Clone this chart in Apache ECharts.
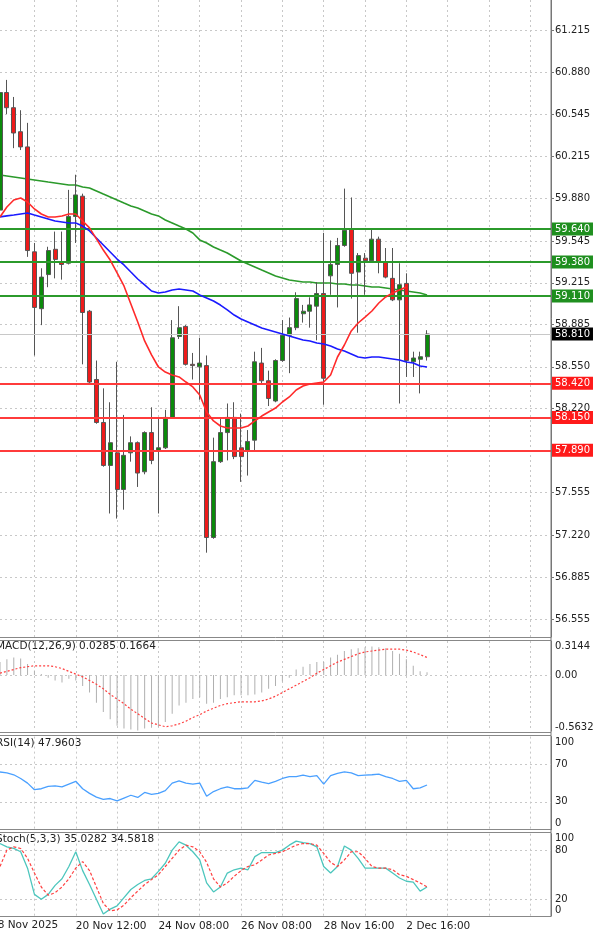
<!DOCTYPE html>
<html><head><meta charset="utf-8">
<script src="https://cdn.jsdelivr.net/npm/echarts@6/dist/echarts.min.js"></script>
<style>html,body{margin:0;padding:0;background:#fff}#c{width:600px;height:937px}</style>
</head><body><div id="c"></div>
<script>
const timeLabels = ["18 Nov 2025","20 Nov 12:00","24 Nov 08:00","26 Nov 08:00","28 Nov 16:00","2 Dec 16:00"];
const priceTicks = ["61.215","60.880","60.545","60.215","59.880","59.545","59.215","58.885","58.550","58.220","57.890","57.555","57.220","56.885","56.555"];
const opens  = [59.79,60.72,60.60,60.41,60.29,59.46,59.01,59.28,59.48,59.38,59.37,59.74,59.90,58.99,58.45,58.11,57.77,57.87,57.58,57.87,57.95,57.72,58.03,57.89,57.91,58.15,58.79,58.87,58.57,58.55,58.56,57.20,57.80,58.03,58.15,57.91,57.89,57.97,58.58,58.44,58.28,58.60,58.80,58.86,58.97,58.99,59.03,59.13,59.27,59.36,59.51,59.64,59.30,59.41,59.39,59.56,59.38,59.25,59.08,59.21,58.59,58.61,58.63];
const closes = [60.72,60.60,60.40,60.29,59.47,59.02,59.26,59.47,59.40,59.36,59.74,59.91,58.98,58.43,58.11,57.77,57.95,57.58,57.85,57.95,57.71,58.03,57.81,57.91,58.15,58.78,58.86,58.57,58.56,58.58,57.20,57.80,58.03,58.15,57.84,57.84,57.96,58.59,58.44,58.30,58.60,58.80,58.86,59.09,58.99,59.04,59.13,58.46,59.36,59.51,59.63,59.29,59.43,59.39,59.56,59.38,59.26,59.08,59.20,58.60,58.62,58.63,58.81];
const lows   = [59.70,60.55,60.28,60.265,59.42,58.64,58.88,59.18,59.25,59.24,59.36,59.53,58.57,58.42,58.10,57.76,57.39,57.35,57.42,57.80,57.60,57.70,57.78,57.39,57.90,58.14,58.77,58.56,58.45,58.29,57.08,57.19,57.79,57.81,57.82,57.64,57.69,57.89,58.42,58.24,58.27,58.59,58.50,58.84,58.90,58.86,58.76,58.25,59.12,59.02,59.50,59.09,58.82,59.12,59.38,59.29,59.25,59.07,58.26,58.47,58.47,58.34,58.60];
const highs  = [60.75,60.82,60.685,60.58,60.48,59.53,59.33,59.50,59.62,59.62,59.95,60.07,59.92,59.00,58.60,58.38,58.27,58.59,58.17,58.00,57.96,58.04,58.23,58.14,58.21,58.92,59.03,58.88,58.66,58.78,58.64,57.99,58.15,58.26,58.27,58.18,58.05,58.67,58.70,58.52,58.61,58.92,58.94,59.14,59.04,59.10,59.22,59.61,59.55,59.57,59.96,59.89,59.45,59.45,59.64,59.58,59.49,59.49,59.37,59.29,58.67,58.67,58.84];
const maFast = [59.736,59.815,59.870,59.886,59.854,59.799,59.759,59.736,59.736,59.743,59.759,59.759,59.704,59.649,59.562,59.474,59.395,59.293,59.190,59.047,58.905,58.755,58.644,58.549,58.509,58.486,58.470,58.430,58.391,58.327,58.193,58.122,58.082,58.066,58.066,58.066,58.082,58.122,58.161,58.193,58.224,58.272,58.312,58.367,58.399,58.414,58.422,58.430,58.486,58.628,58.723,58.834,58.897,58.944,58.992,59.055,59.103,59.134,59.158,59.182];
const maMid = [59.736,59.744,59.751,59.759,59.767,59.751,59.736,59.720,59.704,59.696,59.688,59.688,59.664,59.625,59.569,59.514,59.459,59.403,59.356,59.300,59.245,59.198,59.150,59.134,59.142,59.158,59.166,59.158,59.150,59.119,59.095,59.071,59.039,59.000,58.960,58.929,58.905,58.881,58.857,58.842,58.826,58.810,58.794,58.778,58.762,58.755,58.739,58.731,58.715,58.691,58.675,58.652,58.628,58.620,58.628,58.628,58.620,58.612,58.604,58.588,58.581,58.557,58.549];
const maSlow = [60.068,60.060,60.052,60.044,60.036,60.028,60.020,60.012,60.005,59.997,59.989,59.989,59.973,59.965,59.941,59.917,59.894,59.870,59.846,59.823,59.807,59.783,59.759,59.744,59.712,59.688,59.664,59.641,59.609,59.554,59.530,59.498,59.474,59.451,59.419,59.387,59.364,59.340,59.316,59.293,59.269,59.253,59.237,59.229,59.221,59.221,59.213,59.213,59.213,59.206,59.206,59.198,59.198,59.190,59.182,59.182,59.174,59.166,59.158,59.150,59.142,59.134,59.119];
const macdHist = [0.14,0.17,0.19,0.18,0.12,0.05,0.01,-0.03,-0.06,-0.08,-0.04,-0.06,-0.12,-0.19,-0.30,-0.40,-0.48,-0.55,-0.58,-0.59,-0.60,-0.58,-0.57,-0.56,-0.51,-0.42,-0.33,-0.30,-0.26,-0.24,-0.31,-0.30,-0.26,-0.24,-0.22,-0.22,-0.22,-0.21,-0.19,-0.15,-0.12,-0.07,-0.03,0.06,0.09,0.12,0.14,0.14,0.19,0.22,0.26,0.28,0.29,0.30,0.31,0.30,0.29,0.26,0.23,0.17,0.10,0.04,0.03];
const macdSignal = [0.02,0.04,0.06,0.08,0.09,0.10,0.10,0.10,0.09,0.07,0.04,0.01,-0.02,-0.06,-0.10,-0.15,-0.21,-0.26,-0.31,-0.37,-0.42,-0.47,-0.52,-0.54,-0.56,-0.55,-0.53,-0.50,-0.46,-0.43,-0.39,-0.36,-0.33,-0.31,-0.30,-0.29,-0.29,-0.29,-0.28,-0.26,-0.23,-0.19,-0.15,-0.11,-0.07,-0.03,0.02,0.06,0.10,0.14,0.17,0.20,0.23,0.25,0.26,0.27,0.28,0.28,0.28,0.27,0.25,0.22,0.19];
const rsi = [62,61,59,55,50,43,44,46.5,47,46,49,52,44,39,35,32.5,33.5,31,34,37,34.6,40,38,39,42,50,52.5,50,49,50,36,41,44,46,44,44,45,53,51,49.6,52,55,57,57,58.6,57,58,49,58,60.4,62,61,58,58.6,59,59.6,57,55,52,53,44,45,48];
const stochK = [88,84,82,78,58,26,20,26,37,45,60,78,55,38,20,2,8,12,22,32,38,43,45,54,64,80,90,86,78,68,40,29,35,52,56,58,56,72,77,77,77,80,86,91,89,88,84,60,52,60,85,80,70,58,58,58,58,52,46,42,41,30,35];
const stochD = [60,80,84,82,70,52,35,25,28,35,45,58,66,55,35,15,6,7,13,22,30,38,44,50,60,70,80,86,84,78,65,45,35,40,48,55,60,62,68,74,76,78,82,86,88,88,86,76,65,60,68,78,78,70,60,58,58,56,50,48,44,40,35];
const supportLevels = [58.42,58.15,57.89];
const resistLevels = [59.64,59.38,59.11];
const lastPrice = 58.81;

const NCAT = 81;
const cats = [];
for (let k = 0; k < NCAT; k++) { const j = (k + 1) / 12; cats.push(k % 12 === 11 && timeLabels[j] ? timeLabels[j] : 'c' + k); }
const candles = opens.map((o,i)=>[o, closes[i], lows[i], highs[i]]);
const FONT = 'DejaVu Sans';
const gridLeft = 0, gridRight = 49;
const grids = [
  {left:gridLeft,right:gridRight,top:0,height:637},
  {left:gridLeft,right:gridRight,top:641,height:90},
  {left:gridLeft,right:gridRight,top:736.6,height:93.1},
  {left:gridLeft,right:gridRight,top:833.7,height:82}
];
const vSplit = {show:true, interval:(i)=> i%6===5, lineStyle:{color:'#c8c8c8',type:[2,3],width:1}};
const xAxes = grids.map((g,gi)=>({
  type:'category', gridIndex:gi, data:cats, boundaryGap:false,
  axisLine:{show:false}, axisTick:{show:false},
  axisLabel:{show: gi===3, interval:(i)=>i%12===11, align:'left', margin:5, color:'#222', fontFamily:FONT, fontSize:10.5,
    formatter:v=>timeLabels.includes(v)?v:''},
  splitLine:vSplit
}));
const lbl = {color:'#222', fontFamily:FONT, fontSize:10, margin:4};
const axLine = {show:true, lineStyle:{color:'#777'}};
const dashed = {show:true, lineStyle:{color:'#c8c8c8', type:[2,3]}};
const priceVals = priceTicks.map(Number);
const yAxes = [
  {type:'value', gridIndex:0, position:'right', min:56.413, max:61.452, axisLine:axLine,
   axisTick:{show:true, customValues:priceVals, length:3, lineStyle:{color:'#777'}},
   axisLabel:Object.assign({customValues:priceVals, formatter:v=>{const i=priceVals.findIndex(p=>Math.abs(p-v)<1e-6);return i>=0?priceTicks[i]:'';}}, lbl),
   splitLine:dashed},
  {type:'value', gridIndex:1, position:'right', min:-0.6065, max:0.3686, axisLine:axLine,
   axisTick:{show:false, customValues:[-0.5632,0,0.3144]},
   axisLabel:Object.assign({customValues:[-0.5632,0,0.3144], formatter:v=>v===0?'0.00':String(v)}, lbl),
   splitLine:{show:false}},
  {type:'value', gridIndex:2, position:'right', min:0, max:100, axisLine:axLine,
   axisTick:{show:false, customValues:[30,70]},
   axisLabel:Object.assign({customValues:[0,30,70,100], verticalAlign:'middle',
     formatter:v=>v===100?'{t|100}':(v===0?'{b|0}':String(v)), rich:{t:{padding:[12,0,0,0],fontSize:10,fontFamily:FONT,color:'#222'},b:{padding:[0,0,12,0],fontSize:10,fontFamily:FONT,color:'#222'}}}, lbl),
   splitLine:dashed},
  {type:'value', gridIndex:3, position:'right', min:0, max:100, axisLine:axLine,
   axisTick:{show:false, customValues:[20,80]},
   axisLabel:Object.assign({customValues:[0,20,80,100],
     formatter:v=>v===100?'{t|100}':(v===0?'{b|0}':String(v)), rich:{t:{padding:[10,0,0,0],fontSize:10,fontFamily:FONT,color:'#222'},b:{padding:[0,0,10,0],fontSize:10,fontFamily:FONT,color:'#222'}}}, lbl),
   splitLine:dashed}
];
function levelLine(v, col, bg){
  return {yAxis:v, lineStyle:{color:col, width:2, type:'solid'},
    label:{show:true, position:'end', distance:1, formatter:v.toFixed(3), color:'#fff', backgroundColor:bg,
      fontFamily:FONT, fontSize:10, padding:[2,3,1,3]}};
}
const markData = [];
resistLevels.forEach(v=>markData.push(levelLine(v,'#2b9a2b','#1f8f1f')));
supportLevels.forEach(v=>markData.push(levelLine(v,'#ff3b3b','#ff1a1a')));
markData.push({yAxis:lastPrice, lineStyle:{color:'#c8c8c8', width:1, type:'solid'},
  label:{show:true, position:'end', distance:1, formatter:lastPrice.toFixed(3), color:'#fff', backgroundColor:'#000', fontFamily:FONT, fontSize:10, padding:[2,3,1,3]}});
const series = [
  {type:'line', xAxisIndex:0, yAxisIndex:0, data:maSlow, showSymbol:false, lineStyle:{color:'#2b9a2b', width:1.6}, z:3,
   markLine:{symbol:'none', silent:true, animation:false, data:markData}},
  {type:'candlestick', xAxisIndex:0, yAxisIndex:0, data:candles, barWidth:4.5,
   itemStyle:{color:'#0b8a0b', color0:'#ee1b1b', borderColor:'#555', borderColor0:'#555', borderWidth:1}, z:4},
  {type:'line', xAxisIndex:0, yAxisIndex:0, data:maMid, showSymbol:false, lineStyle:{color:'#1a1aff', width:1.6}, z:5},
  {type:'line', xAxisIndex:0, yAxisIndex:0, data:maFast, showSymbol:false, lineStyle:{color:'#ff2a2a', width:1.6}, z:5},
  {type:'bar', xAxisIndex:1, yAxisIndex:1, data:macdHist, barWidth:1, itemStyle:{color:'#b0b0b0'}},
  {type:'line', xAxisIndex:1, yAxisIndex:1, data:macdSignal, showSymbol:false, lineStyle:{color:'#ff4040', width:1.2, type:[2,2]},
   markLine:{symbol:'none', silent:true, label:{show:false}, data:[{yAxis:0}], lineStyle:{color:'#c8c8c8', type:[2,3], width:1}}},
  {type:'line', xAxisIndex:2, yAxisIndex:2, data:rsi, showSymbol:false, lineStyle:{color:'#4aa0ff', width:1.3}},
  {type:'line', xAxisIndex:3, yAxisIndex:3, data:stochK, showSymbol:false, lineStyle:{color:'#4cc6bd', width:1.3}},
  {type:'line', xAxisIndex:3, yAxisIndex:3, data:stochD, showSymbol:false, lineStyle:{color:'#ff4040', width:1.2, type:[3,2]}}
];
const sep = y => ({type:'line', shape:{x1:0,y1:y,x2:551,y2:y}, style:{stroke:'#888', lineWidth:1}});
const title = (t,y)=>({type:'text', left:-4, top:y, style:{text:t, fill:'#222', font:'10.5px "DejaVu Sans"'}});
const chart = echarts.init(document.getElementById('c'), null, {renderer:'canvas'});
chart.setOption({
  animation:false, backgroundColor:'#fff',
  grid:grids, xAxis:xAxes, yAxis:yAxes, series:series,
  graphic:[sep(637.5),sep(640.5),sep(732.5),sep(735.5),sep(829.5),sep(832.5),sep(916.5),
    {type:'line', shape:{x1:551,y1:0,x2:551,y2:917}, style:{stroke:'#777', lineWidth:1}},
    {type:'text', left:-9, top:920, style:{text:timeLabels[0], fill:'#222', font:'10.5px "DejaVu Sans"'}},
    title('MACD(12,26,9) 0.0285 0.1664',641), title('RSI(14) 47.9603',738), title('Stoch(5,3,3) 35.0282 34.5818',834)]
});
</script></body></html>
